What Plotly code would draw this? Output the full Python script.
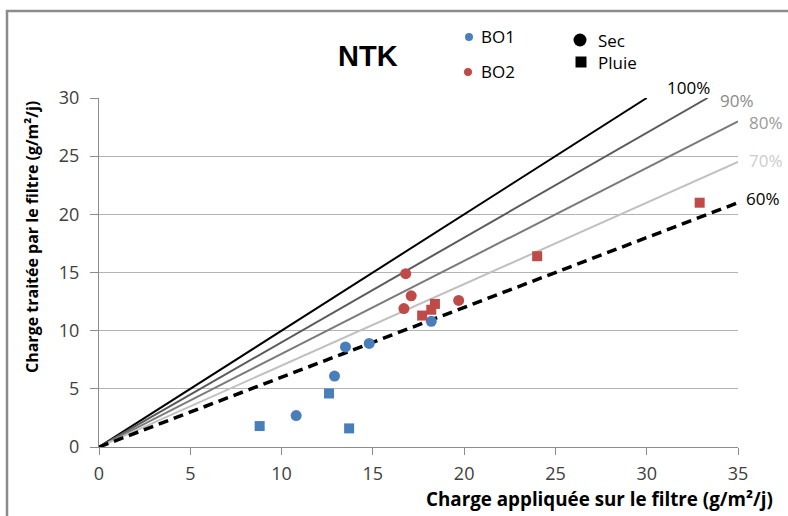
import plotly.graph_objects as go

# ---- data ----
ratios = [1.0, 0.9, 0.8, 0.7, 0.6]
ratio_labels = ["100%", "90%", "80%", "70%", "60%"]
x_max = 35
y_max = 30

bo1_sec_x = [10.8, 12.9, 13.5, 14.8, 18.2]
bo1_sec_y = [2.7, 6.1, 8.6, 8.9, 10.8]
bo1_pluie_x = [8.8, 12.6, 13.7]
bo1_pluie_y = [1.8, 4.6, 1.6]
bo2_sec_x = [16.8, 17.1, 16.7, 19.7]
bo2_sec_y = [14.9, 13.0, 11.9, 12.6]
bo2_pluie_x = [17.7, 18.2, 18.4, 24.0, 32.9]
bo2_pluie_y = [11.3, 11.8, 12.3, 16.4, 21.0]

x_ticks = [0, 5, 10, 15, 20, 25, 30, 35]
y_ticks = [0, 5, 10, 15, 20, 25, 30]

# ---- styling ----
W, H = 788, 516
L, R, T, B = 99, 50, 98, 69
PW, PH = W - L - R, H - T - B

def px(xp):
    return (xp - L) / PW

def py(yp):
    return (H - B - yp) / PH

BLUE = "#4a7ebb"
RED = "#be4b48"
FONT = "Open Sans"

line_colors = ["#000000", "#5a5a5a", "#7a7a7a", "#c0c0c0", "#000000"]
line_widths = [2, 2, 2, 2, 3.5]
line_dash = ["solid", "solid", "solid", "solid", "10px,6px"]
label_colors = ["#000000", "#8a8a8a", "#9a9a9a", "#cccccc", "#000000"]
label_pos = [(688, 87), (737, 100), (766, 123), (766, 160), (763, 198)]

fig = go.Figure()

for r, c, w, d in zip(ratios, line_colors, line_widths, line_dash):
    xe = min(x_max, y_max / r)
    fig.add_trace(go.Scatter(x=[0, xe], y=[0, r * xe], mode="lines",
                             line=dict(color=c, width=w, dash=d),
                             hoverinfo="skip", showlegend=False))

fig.add_trace(go.Scatter(x=bo1_sec_x, y=bo1_sec_y, mode="markers",
                         marker=dict(symbol="circle", size=11, color=BLUE),
                         showlegend=False))
fig.add_trace(go.Scatter(x=bo1_pluie_x, y=bo1_pluie_y, mode="markers",
                         marker=dict(symbol="square", size=10, color=BLUE),
                         showlegend=False))
fig.add_trace(go.Scatter(x=bo2_sec_x, y=bo2_sec_y, mode="markers",
                         marker=dict(symbol="circle", size=11, color=RED),
                         showlegend=False))
fig.add_trace(go.Scatter(x=bo2_pluie_x, y=bo2_pluie_y, mode="markers",
                         marker=dict(symbol="square", size=10, color=RED),
                         showlegend=False))

annotations = []
for lab, col, (lx, ly) in zip(ratio_labels, label_colors, label_pos):
    annotations.append(dict(text=lab, x=px(lx), y=py(ly), xref="paper", yref="paper",
                            xanchor="center", yanchor="middle", showarrow=False,
                            font=dict(family=FONT, size=17, color=col)))

annotations += [
    dict(text="<b>NTK</b>", x=px(368), y=py(56), xref="paper", yref="paper",
         xanchor="center", yanchor="middle", showarrow=False,
         font=dict(family="Liberation Sans", size=29, color="#000000")),
    dict(text="BO1", x=px(479), y=py(37), xref="paper", yref="paper",
         xanchor="left", yanchor="middle", showarrow=False,
         font=dict(family=FONT, size=17, color="#000000")),
    dict(text="BO2", x=px(479), y=py(72), xref="paper", yref="paper",
         xanchor="left", yanchor="middle", showarrow=False,
         font=dict(family=FONT, size=17, color="#000000")),
    dict(text="Sec", x=px(596), y=py(40), xref="paper", yref="paper",
         xanchor="left", yanchor="middle", showarrow=False,
         font=dict(family=FONT, size=17, color="#000000")),
    dict(text="Pluie", x=px(596), y=py(63), xref="paper", yref="paper",
         xanchor="left", yanchor="middle", showarrow=False,
         font=dict(family=FONT, size=17, color="#000000")),
    dict(text="<b>Charge appliquée sur le filtre (g/m²/j)</b>", x=px(775), y=py(499),
         xref="paper", yref="paper", xanchor="right", yanchor="middle", showarrow=False,
         font=dict(family=FONT, size=18.8, color="#000000")),
    dict(text="<b>Charge traitée par le filtre (g/m²/j)</b>", x=px(32), y=py(237),
         xref="paper", yref="paper", xanchor="center", yanchor="middle", showarrow=False,
         textangle=-90, font=dict(family=FONT, size=16, color="#000000")),
]

def pshape(kind, cx, cy, hw, color):
    return dict(type=kind, xref="paper", yref="paper", xsizemode="pixel", ysizemode="pixel",
                xanchor=px(cx), yanchor=py(cy), x0=-hw, x1=hw, y0=-hw, y1=hw,
                fillcolor=color, line=dict(width=0))

shapes = [
    pshape("circle", 469, 37, 4, BLUE),
    pshape("circle", 468, 72, 4, RED),
    pshape("circle", 580, 40, 6.5, "#000000"),
    pshape("rect", 581, 62, 5.5, "#000000"),
    dict(type="rect", xref="paper", yref="paper",
         x0=px(7), x1=px(820), y0=py(540), y1=py(11),
         line=dict(color="#8c8c8c", width=2.5), fillcolor="rgba(0,0,0,0)"),
]

fig.update_layout(
    width=W, height=H,
    margin=dict(l=L, r=R, t=T, b=B, pad=0),
    paper_bgcolor="white", plot_bgcolor="white",
    showlegend=False,
    annotations=annotations, shapes=shapes,
    xaxis=dict(range=[0, x_max], tickvals=x_ticks, showgrid=False, zeroline=False,
               showline=True, linecolor="#8c8c8c", linewidth=1,
               ticks="outside", ticklen=7, tickcolor="#8c8c8c",
               ticklabelstandoff=3,
               tickfont=dict(family=FONT, size=18, color="#404040")),
    yaxis=dict(range=[0, y_max], tickvals=y_ticks, showgrid=True, gridcolor="#b4b4b4",
               gridwidth=1, zeroline=False,
               showline=True, linecolor="#8c8c8c", linewidth=1,
               ticks="outside", ticklen=8, tickcolor="#8c8c8c",
               ticklabelstandoff=7,
               tickfont=dict(family=FONT, size=18, color="#404040")),
)

fig.write_html("out.html", config={"displayModeBar": False},
               post_script="document.body.style.margin='0';document.body.style.overflow='hidden';")
